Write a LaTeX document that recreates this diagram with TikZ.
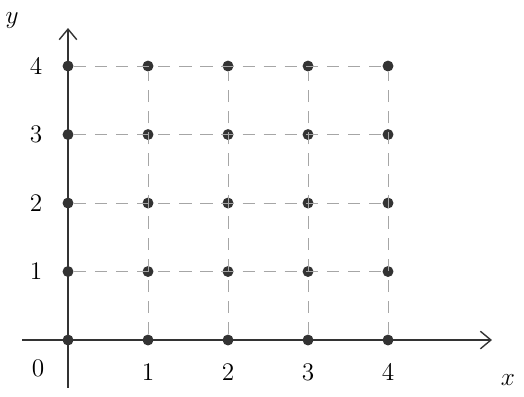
\documentclass[tikz,border=0pt]{standalone}
\usepackage{amsmath}
\usetikzlibrary{arrows,arrows.meta,positioning}

\begin{document}
\begin{tikzpicture}[x=1.6cm, y=1.37cm,
  gridvert/.style={circle, fill=black!80, inner sep=2.2pt},
  gridedge/.style={gray!70, thin, dash pattern=on 7pt off 5pt},
  axisedge/.style={-{Straight Barb[length=6pt,width=10pt]}, thick, black!80},
  ticklab/.style={font=\Large}]

\useasboundingbox (-0.85,-0.8175) rectangle (5.7,4.964);

% axes
\coordinate (xs) at (-0.575,0);
\coordinate (xe) at (5.3,0);
\coordinate (ys) at (0,-0.7);
\coordinate (ye) at (0,4.555);

% grid points
\foreach \i in {0,...,4} {
  \foreach \j in {0,...,4} {
    \node[gridvert] (P\i\j) at (\i,\j) {};
  }
}

% dashed grid
\foreach \j in {1,...,4} {
  \draw[gridedge] (P0\j) -- (P4\j);
}
\foreach \i in {1,...,4} {
  \draw[gridedge] (P\i0) -- (P\i4);
}

\draw[axisedge] (xs) -- (xe);
\draw[axisedge] (ys) -- (ye);

% labels
\node[ticklab] (l0) at (-0.375,-0.42) {$0$};
\foreach \i in {1,...,4} {
  \node[ticklab] (lx\i) at (\i,-0.47) {$\i$};
  \node[ticklab] (ly\i) at (-0.4,\i) {$\i$};
}
\node[ticklab] (xlab) at (5.5,-0.58) {$x$};
\node[ticklab] (ylab) at (-0.7,4.67) {$y$};

\end{tikzpicture}
\end{document}
